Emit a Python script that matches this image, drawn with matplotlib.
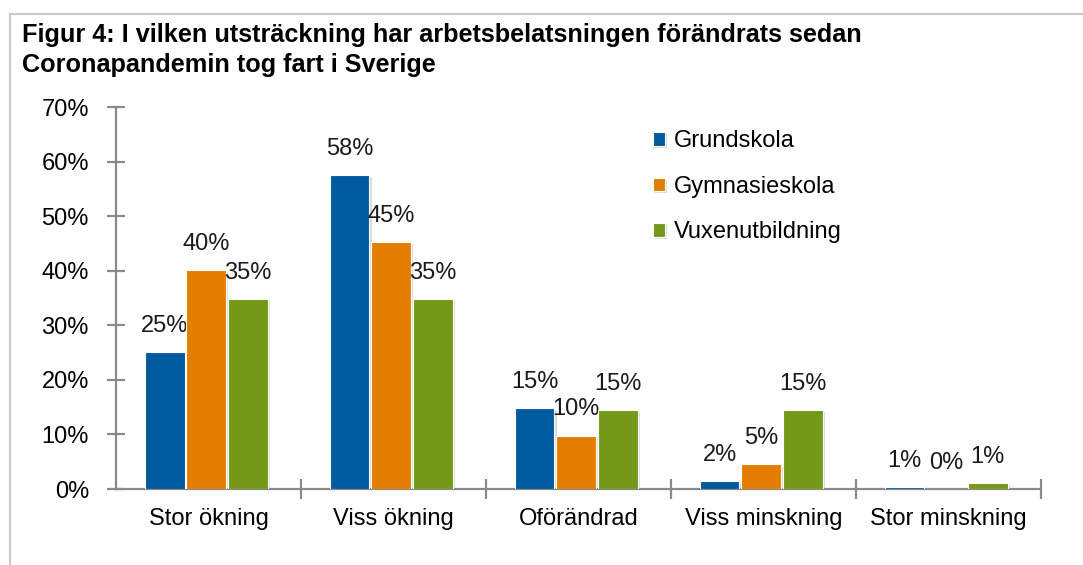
import matplotlib.pyplot as plt
import matplotlib.patheffects as pe
from matplotlib.lines import Line2D
import numpy as np

plt.rcParams['font.family'] = ['Liberation Sans', 'DejaVu Sans']

# data
kategorier = ['Stor ökning', 'Viss ökning', 'Oförändrad', 'Viss minskning', 'Stor minskning']
serier = ['Grundskola', 'Gymnasieskola', 'Vuxenutbildning']
grundskola = [25.1, 57.5, 14.8, 1.5, 0.4]
gymnasieskola = [40.1, 45.2, 9.8, 4.5, 0.0]
vuxenutbildning = [34.8, 34.8, 14.5, 14.5, 1.1]
etiketter_grund = ['25%', '58%', '15%', '2%', '1%']
etiketter_gymn = ['40%', '45%', '10%', '5%', '0%']
etiketter_vux = ['35%', '35%', '15%', '15%', '1%']
farger = ['#005AA0', '#E47E00', '#74981A']

varden = [grundskola, gymnasieskola, vuxenutbildning]
etiketter = [etiketter_grund, etiketter_gymn, etiketter_vux]

fig = plt.figure(figsize=(10.83, 5.65), dpi=100)
ax = fig.add_axes([0.1071, 0.1345, 0.854, 0.6761])

x = np.arange(len(kategorier))
bredd = 0.215
steg = 0.225
skugga = [pe.SimplePatchShadow(offset=(1.5, -1.5), shadow_rgbFace='#999999', alpha=0.35), pe.Normal()]

for i, (namn, v, lab) in enumerate(zip(serier, varden, etiketter)):
    pos = x + (i - 1) * steg - 0.012
    staplar = ax.bar(pos, v, bredd, color=farger[i], edgecolor='white', linewidth=0.8,
                     label=namn, zorder=3)
    for s in staplar:
        s.set_path_effects(skugga)
    for p, h, t in zip(pos, v, lab):
        ax.annotate(t, (p, h), xytext=(0, 11), textcoords='offset points',
                    ha='center', va='bottom', fontsize=17, color='#1a1a1a')

ax.set_xlim(-0.5, len(kategorier) - 0.5)
ax.set_ylim(0, 70)
ax.set_yticks(np.arange(0, 71, 10))
ax.set_yticklabels([f'{t}%' for t in range(0, 71, 10)])
ax.set_xticks(x)
ax.set_xticklabels(kategorier)
ax.set_xticks(np.arange(0.5, len(kategorier), 1), minor=True)

for s in ['top', 'right']:
    ax.spines[s].set_visible(False)
for s in ['left', 'bottom']:
    ax.spines[s].set_color('#8a8a8a')
    ax.spines[s].set_linewidth(1.6)

ax.tick_params(axis='y', direction='inout', length=13, width=1.6, color='#8a8a8a',
               labelsize=17, pad=13)
ax.tick_params(axis='x', which='major', length=0, labelsize=17, pad=14)
ax.tick_params(axis='x', which='minor', direction='inout', length=14, width=1.6, color='#8a8a8a')

ax.legend(loc='upper left', bbox_to_anchor=(0.558, 0.995), frameon=False, fontsize=17,
          handlelength=0.5, handleheight=0.5, handletextpad=0.35, labelspacing=1.0)

fig.text(0.02, 0.959, 'Figur 4: I vilken utsträckning har arbetsbelatsningen förändrats sedan\n'
         'Coronapandemin tog fart i Sverige', fontsize=18.2, fontweight='bold',
         ha='left', va='top', linespacing=1.3)

# ram
fig.add_artist(Line2D([0.0092, 0.0092], [0.0, 0.975], color='#c8c8c8', lw=1.5))
fig.add_artist(Line2D([0.0092, 1.0], [0.975, 0.975], color='#c8c8c8', lw=1.5))

fig.savefig('out.png', dpi=100)
